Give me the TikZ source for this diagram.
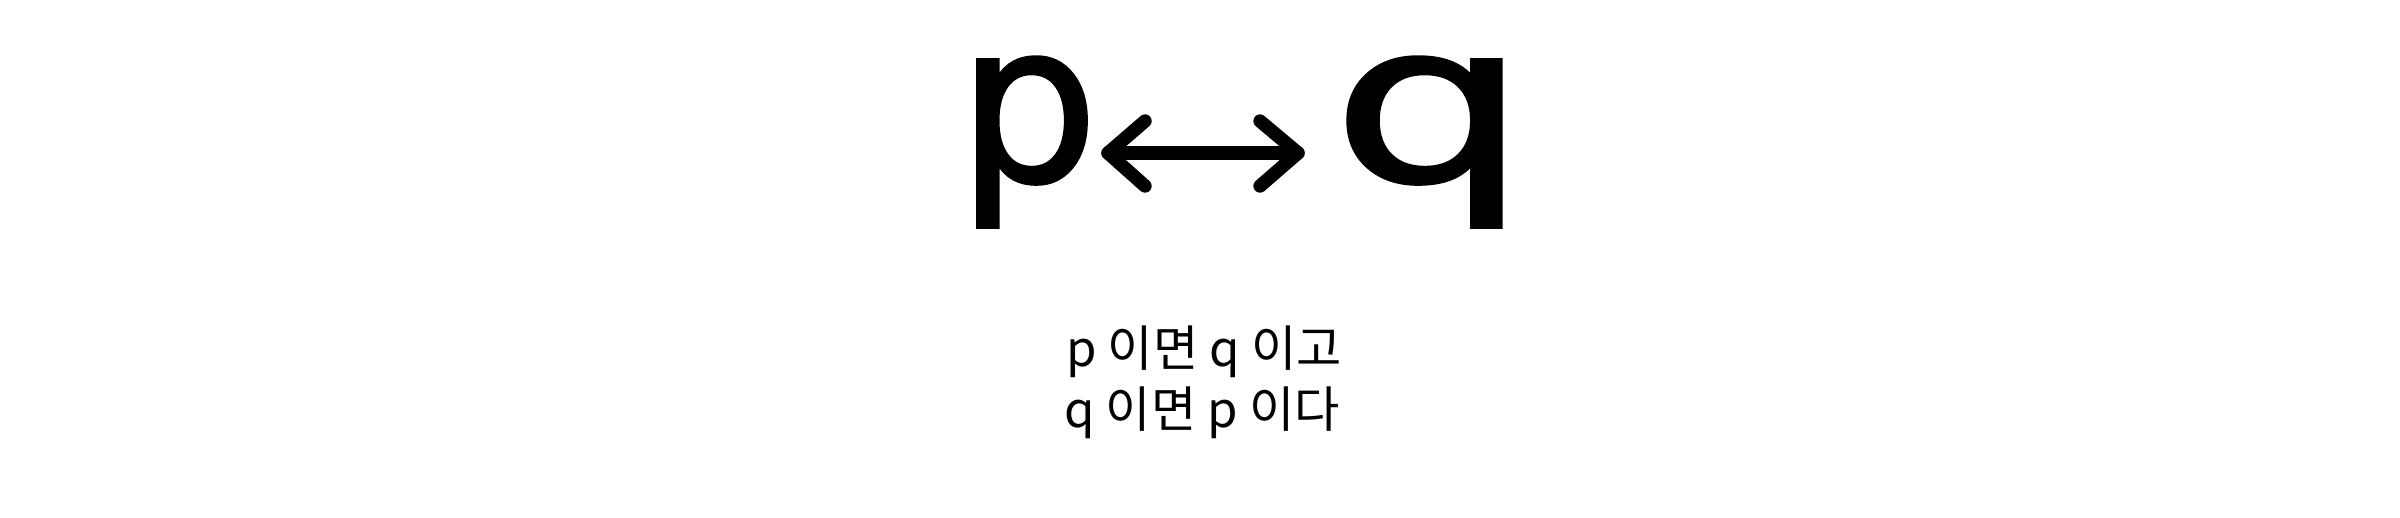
\documentclass[tikz,border=0pt]{standalone}
\usepackage{fontspec}
\setmainfont{DejaVu Sans}
\newfontfamily\krfont{Noto Sans CJK KR}
\newfontfamily\bigfont[FakeBold=1.5]{DejaVu Sans}
\begin{document}
\begin{tikzpicture}[x=0.01cm,y=-0.01cm,
  bigletter/.style={inner sep=0pt,anchor=base,font=\bigfont\fontsize{63}{63}\selectfont},
  krline/.style={inner sep=0pt,font=\krfont\fontsize{14}{16}\selectfont},
  arrowline/.style={line width=3.8pt,line cap=round,line join=round}]
\useasboundingbox[fill=white] (0,0) rectangle (2400,517);
\node[bigletter] (p) at (1028,181) {p};
\node[bigletter] (q) at (1430,181) {\scalebox{1.4}[1]{q}};
\coordinate (lt) at (1108,153);
\coordinate (rt) at (1298,153);
\draw[arrowline] (lt) -- (rt);
\draw[arrowline] (1145,121) -- (lt) -- (1145,186);
\draw[arrowline] (1260,121) -- (rt) -- (1260,186);
\node[krline] (l1) at (1204,352) {p 이면 q 이고};
\node[krline] (l2) at (1202,413) {q 이면 p 이다};
\end{tikzpicture}
\end{document}
